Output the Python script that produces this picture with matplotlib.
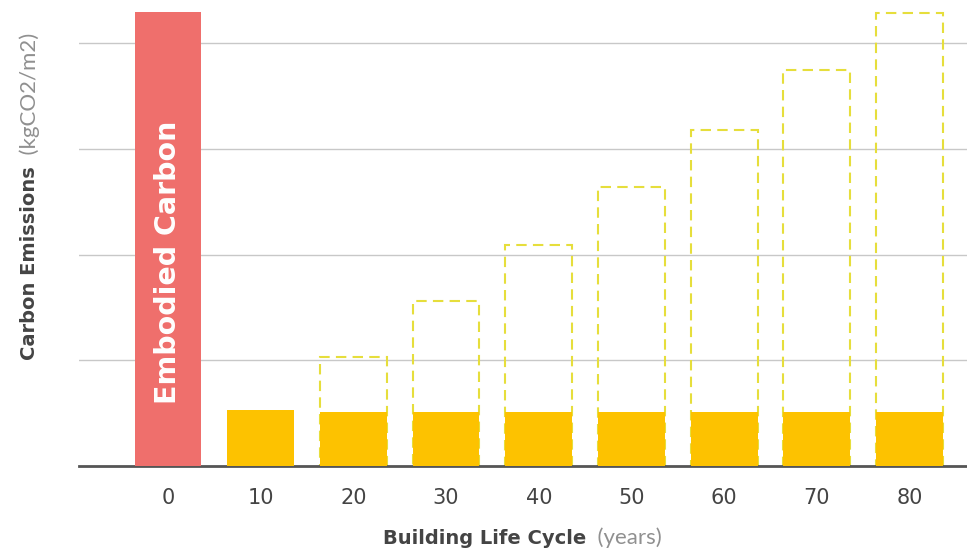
import matplotlib
matplotlib.use('agg')
import matplotlib.pyplot as plt

# data (units = gridline steps)
years = ['0', '10', '20', '30', '40', '50', '60', '70', '80']
embodied = [4.30, 0, 0, 0, 0, 0, 0, 0, 0]
operational = [0, 0.53, 0.51, 0.51, 0.51, 0.51, 0.51, 0.51, 0.51]
cumulative = [0, 0, 1.03, 1.56, 2.09, 2.64, 3.18, 3.75, 4.29]

red = '#EF6F6C'
yellow = '#FDC200'
dash_col = '#E6DE3C'
txt_dark = '#444444'
txt_light = '#909090'

plt.rcParams['font.family'] = ['DejaVu Sans']

fig = plt.figure(figsize=(9.67, 5.53), dpi=100)
ax = fig.add_axes([79/967, 1 - 466/553, 1 - 79/967, 466/553])

x = range(len(years))
w = 0.72
ax.bar(x, embodied, width=w, color=red, zorder=3)
ax.bar(x, operational, width=w, color=yellow, zorder=3)
for i, v in enumerate(cumulative):
    if v > 0:
        ax.bar(i, v, width=w, fill=False, edgecolor=dash_col, linestyle=(0, (5, 3)),
               linewidth=1.5, zorder=2)

ax.text(0, 1.93, 'Embodied Carbon', rotation=90, color='white', fontsize=20.5,
        fontweight='bold', ha='center', va='center', zorder=4)

ax.set_xlim(-0.96, 8.62)
ax.set_ylim(0, 4.41)
ax.set_yticks([1, 2, 3, 4])
ax.yaxis.grid(True, color='#c8c8c8', linewidth=1, zorder=0)
ax.set_axisbelow(True)
ax.tick_params(axis='y', left=False, labelleft=False)
ax.tick_params(axis='x', length=0, pad=16, labelsize=15, labelcolor=txt_dark)
ax.set_xticks(list(x))
ax.set_xticklabels(years)
for s in ['top', 'right', 'left']:
    ax.spines[s].set_visible(False)
ax.spines['bottom'].set_color('#555555')
ax.spines['bottom'].set_linewidth(2)

# axis titles: bold part + light units part
t1 = fig.text(383/967, 1 - 539/553, 'Building Life Cycle', fontsize=14,
              fontweight='bold', color=txt_dark, ha='left', va='center')
ax.annotate('  (years)', xy=(1, 0), xycoords=t1, va='bottom', ha='left',
            fontsize=16, color=txt_light, family=['Lato', 'DejaVu Sans'])
t2 = fig.text(30/967, 1 - 360/553, 'Carbon Emissions', fontsize=14,
              fontweight='bold', color=txt_dark, rotation=90, ha='center', va='bottom')
ax.annotate('  (kgCO2/m2)', xy=(0.5, 1), xycoords=t2, va='bottom', ha='center',
            fontsize=16, color=txt_light, rotation=90, family=['Lato', 'DejaVu Sans'])

fig.savefig('out.png', dpi=100)
